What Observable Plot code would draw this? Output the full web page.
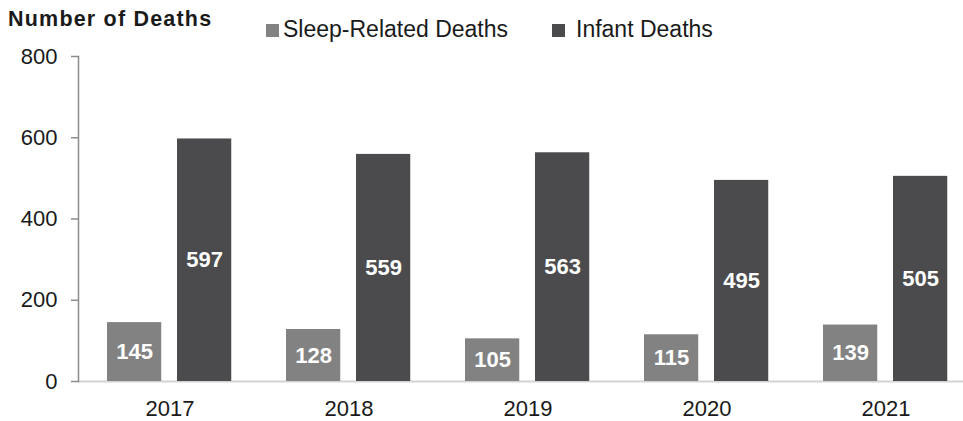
<!DOCTYPE html>
<html>
<head>
<meta charset="utf-8">
<script src="https://cdn.jsdelivr.net/npm/d3@7"></script>
<script src="https://cdn.jsdelivr.net/npm/@observablehq/plot@0.6"></script>
<style>
  html, body { margin: 0; padding: 0; background: #fff; }
  body { width: 963px; height: 421px; overflow: hidden; font-family: "Liberation Sans", Arial, sans-serif; color: #1a1a1a; }
  #header { position: relative; height: 44px; width: 963px; }
  #title { position: absolute; left: 8px; top: 9px; font-size: 21.5px; line-height: 21px; font-weight: bold; letter-spacing: 1.2px; white-space: nowrap; }
  .lg-sw { position: absolute; width: 13px; height: 13px; top: 24px; }
  .lg-tx { position: absolute; top: 18px; font-size: 23px; line-height: 22px; white-space: nowrap; }
  #chart svg { display: block; }
</style>
</head>
<body>
<div id="header">
  <div id="title"></div>
  <div class="lg-sw" id="sw0"></div><div class="lg-tx" id="tx0"></div>
  <div class="lg-sw" id="sw1"></div><div class="lg-tx" id="tx1"></div>
</div>
<div id="chart"></div>
<script>
const titleText = "Number of Deaths";
const seriesNames = ["Sleep-Related Deaths", "Infant Deaths"];
const seriesColors = ["#828283", "#4b4b4d"];
const years = ["2017", "2018", "2019", "2020", "2021"];
const sleepDeaths = [145, 128, 105, 115, 139];
const infantDeaths = [597, 559, 563, 495, 505];
const yTicks = [0, 200, 400, 600, 800];

document.getElementById("title").textContent = titleText;
const legendPos = [[266, 283], [552, 576]];
seriesNames.forEach((name, i) => {
  const sw = document.getElementById("sw" + i);
  sw.style.left = legendPos[i][0] + "px";
  sw.style.background = seriesColors[i];
  const tx = document.getElementById("tx" + i);
  tx.style.left = legendPos[i][1] + "px";
  tx.textContent = name;
});

const sleepData = years.map((year, i) => ({year, value: sleepDeaths[i]}));
const infantData = years.map((year, i) => ({year, value: infantDeaths[i]}));

const labelStyle = {fill: "white", fontWeight: "bold", fontSize: 22};

const chart = Plot.plot({
  width: 963,
  height: 377,
  marginLeft: 78,
  marginRight: 0,
  marginTop: 12,
  marginBottom: 40,
  style: {fontFamily: '"Liberation Sans", Arial, sans-serif', background: "white", color: "#1a1a1a", overflow: "visible"},
  x: {domain: years, range: [78, 976.75], padding: 0, axis: null},
  y: {domain: [0, 800], axis: null},
  marks: [
    Plot.ruleY([0], {stroke: "#d3d3d3", strokeWidth: 2}),
    Plot.barY(sleepData, {x: "year", y: "value", fill: seriesColors[0], insetLeft: 27, insetRight: 97.75}),
    Plot.barY(infantData, {x: "year", y: "value", fill: seriesColors[1], insetLeft: 97, insetRight: 27.75}),
    Plot.text(sleepData, {x: "year", y: d => d.value / 2, text: d => String(d.value), dx: -35.4, ...labelStyle}),
    Plot.text(infantData, {x: "year", y: d => d.value / 2, text: d => String(d.value), dx: 34.6, ...labelStyle}),
    Plot.frame({anchor: "left", stroke: "#8c8c8c", strokeWidth: 1.5}),
    Plot.axisY({ticks: yTicks, label: null, tickSize: 7, tickPadding: 14, fontSize: 22, stroke: "#8c8c8c", fill: "#1a1a1a", strokeWidth: 1.5}),
    Plot.axisX({label: null, tickSize: 0, tickPadding: 19, fontSize: 22, fill: "#1a1a1a"})
  ]
});
document.getElementById("chart").appendChild(chart);
</script>
</body>
</html>
